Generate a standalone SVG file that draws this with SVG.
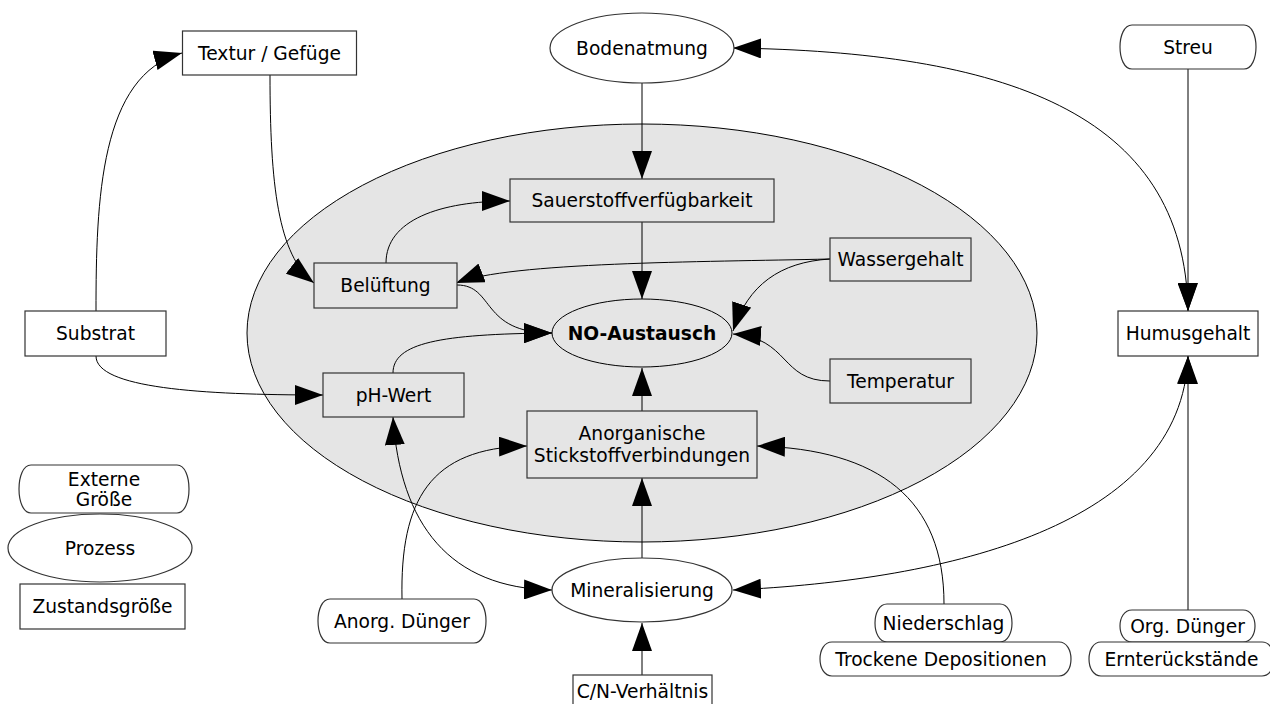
<svg xmlns="http://www.w3.org/2000/svg" width="1270" height="704" viewBox="0 0 1270 704">
<style>
text{font-family:"DejaVu Sans","Liberation Sans",sans-serif;font-size:18.67px;fill:#000;text-anchor:middle}
.box{fill:#fff;stroke:#333;stroke-width:1.2}
.inbox{fill:#e5e5e5;stroke:#333;stroke-width:1.2}
.edge{fill:none;stroke:#000;stroke-width:1}
</style>
<defs>
<marker id="ah" markerUnits="userSpaceOnUse" markerWidth="28" markerHeight="20" refX="28" refY="10" orient="auto"><path d="M0,0 L28,10 L0,20 Z" fill="#000"/></marker>
<marker id="as" markerUnits="userSpaceOnUse" markerWidth="28" markerHeight="20" refX="0" refY="10" orient="auto"><path d="M28,0 L0,10 L28,20 Z" fill="#000"/></marker>
</defs>
<rect width="1270" height="704" fill="#fff"/>
<ellipse id="cluster" cx="642" cy="333" rx="395" ry="209" fill="#e5e5e5" stroke="#000" stroke-width="1"/>
<g id="edges">
<path class="edge" d="M96,311 C96,200 100,75 182,53" marker-end="url(#ah)"/>
<path class="edge" d="M270,75 C270,185 278,255 314,283" marker-end="url(#ah)"/>
<path class="edge" d="M386,263 C386,220 440,201 510,201" marker-end="url(#ah)"/>
<path class="edge" d="M642,83 L642,179" marker-end="url(#ah)"/>
<path class="edge" d="M642,222 L642,299" marker-end="url(#ah)"/>
<path class="edge" d="M830,259 C700,262 510,262 456,283" marker-end="url(#ah)"/>
<path class="edge" d="M830,259 C780,262 748,285 733,331" marker-end="url(#ah)"/>
<path class="edge" d="M457,285 C495,285 480,333 552,333" marker-end="url(#ah)"/>
<path class="edge" d="M393,373 C393,343 440,334 552,333" marker-end="url(#ah)"/>
<path class="edge" d="M830,381 C780,381 790,338 733,334" marker-end="url(#ah)"/>
<path class="edge" d="M642,411 L642,368" marker-end="url(#ah)"/>
<path class="edge" d="M96,356 C96,388 200,395 323,395" marker-end="url(#ah)"/>
<path class="edge" d="M393,417 C400,525 450,588 552,590" marker-start="url(#as)" marker-end="url(#ah)"/>
<path class="edge" d="M402,599 C400,500 430,448 527,446" marker-end="url(#ah)"/>
<path class="edge" d="M642,558 L642,478" marker-end="url(#ah)"/>
<path class="edge" d="M944,604 C944,500 880,449 757,446" marker-end="url(#ah)"/>
<path class="edge" d="M733,48 C1000,52 1185,110 1188,311" marker-start="url(#as)" marker-end="url(#ah)"/>
<path class="edge" d="M1188,69 L1188,311" marker-end="url(#ah)"/>
<path class="edge" d="M733,590 C950,580 1182,525 1188,356" marker-start="url(#as)" marker-end="url(#ah)"/>
<path class="edge" d="M1188,610 L1188,356" marker-end="url(#ah)"/>
<path class="edge" d="M642,675 L642,623" marker-end="url(#ah)"/>
</g>
<g id="textur"><rect class="box" x="182.5" y="31" width="174" height="44"/><text x="269.5" y="59.5">Textur / Gefüge</text></g>
<g id="bodenatmung"><ellipse class="box" cx="642" cy="48" rx="92" ry="35"/><text x="642" y="54.5">Bodenatmung</text></g>
<g id="streu"><path class="box" d="M1132,25 H1244 C1260,25 1260,69 1244,69 H1132 C1116,69 1116,25 1132,25 Z"/><text x="1188" y="53.5">Streu</text></g>
<g id="sauerstoff"><rect class="inbox" x="510" y="179" width="264" height="43"/><text x="642" y="207">Sauerstoffverfügbarkeit</text></g>
<g id="belueftung"><rect class="inbox" x="314" y="263" width="143" height="45"/><text x="385.5" y="292">Belüftung</text></g>
<g id="wassergehalt"><rect class="inbox" x="830" y="238" width="141" height="43"/><text x="900.5" y="266">Wassergehalt</text></g>
<g id="no"><ellipse cx="642" cy="333" rx="90" ry="34" fill="#e5e5e5" stroke="#000" stroke-width="1"/><text x="642" y="340" font-weight="bold">NO-Austausch</text></g>
<g id="substrat"><rect class="box" x="25" y="311" width="141" height="45"/><text x="95.5" y="340">Substrat</text></g>
<g id="humus"><rect class="box" x="1118" y="311" width="140" height="45"/><text x="1188" y="340">Humusgehalt</text></g>
<g id="ph"><rect class="inbox" x="323" y="373" width="141" height="44"/><text x="393.5" y="401.5">pH-Wert</text></g>
<g id="temperatur"><rect class="inbox" x="830" y="359" width="141" height="44"/><text x="900.5" y="387.5">Temperatur</text></g>
<g id="anorganisch"><rect class="inbox" x="527" y="411" width="230" height="67"/><text x="642" y="440">Anorganische</text><text x="642" y="462">Stickstoffverbindungen</text></g>
<g id="mineralisierung"><ellipse class="box" cx="642" cy="590" rx="90" ry="32"/><text x="642" y="597">Mineralisierung</text></g>
<g id="cn"><rect class="box" x="573" y="675" width="139" height="44"/><text x="642.5" y="698">C/N-Verhältnis</text></g>
<g id="anorgduenger"><path class="box" d="M330,599 H474 C490,599 490,643 474,643 H330 C314,643 314,599 330,599 Z"/><text x="402" y="628">Anorg. Dünger</text></g>
<g id="niederschlag"><path class="box" d="M887,604 H1000 C1016,604 1016,642 1000,642 H887 C871,642 871,604 887,604 Z"/><text x="943.5" y="629.5">Niederschlag</text></g>
<g id="trocken"><path class="box" d="M832,642 H1059 C1075,642 1075,676 1059,676 H832 C816,676 816,642 832,642 Z"/><text x="941" y="665.5">Trockene Depositionen</text></g>
<g id="orgduenger"><path class="box" d="M1132,610 H1243 C1259,610 1259,642 1243,642 H1132 C1116,642 1116,610 1132,610 Z"/><text x="1187.5" y="632.5">Org. Dünger</text></g>
<g id="ernte"><path class="box" d="M1101,642 H1262 C1278,642 1278,676 1262,676 H1101 C1085,676 1085,642 1101,642 Z"/><text x="1181.5" y="665.5">Ernterückstände</text></g>
<g id="legend-extern"><path class="box" d="M31,465 H177 C193,465 193,513 177,513 H31 C15,513 15,465 31,465 Z"/><text x="104" y="486">Externe</text><text x="104" y="506">Größe</text></g>
<g id="legend-prozess"><ellipse class="box" cx="100" cy="548" rx="92" ry="34"/><text x="100" y="555">Prozess</text></g>
<g id="legend-zustand"><rect class="box" x="20" y="584" width="165" height="45"/><text x="102.5" y="613">Zustandsgröße</text></g>
</svg>
